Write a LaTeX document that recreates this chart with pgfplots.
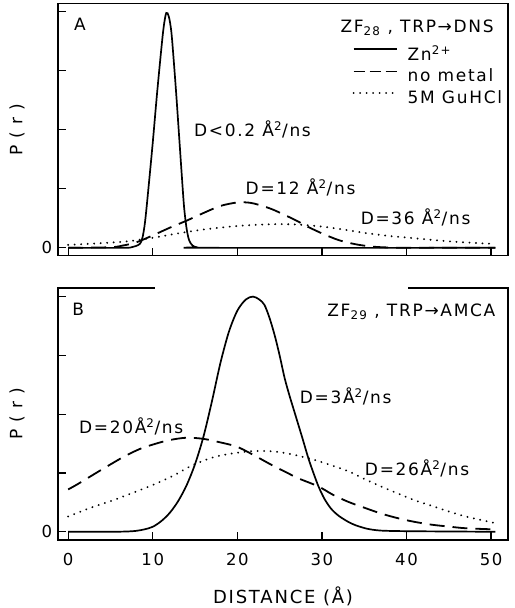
\documentclass[border=0pt]{standalone}
\usepackage{fontspec}
\setmainfont{DejaVu Sans}[LetterSpace=10]
\usepackage{pgfplots}
\pgfplotsset{compat=1.18}
\newcommand{\sq}{\textsuperscript{2}}
\begin{document}
\fontsize{17bp}{20bp}\selectfont
\begin{tikzpicture}
\useasboundingbox (0,0) rectangle (515bp,-608bp);
\pgfplotsset{
  every axis/.append style={
    scale only axis, width=450bp, height=252bp,
    xmin=-1.2, xmax=52,
    axis line style={line width=1.6bp},
    tick style={line width=1.2bp, black},
    major tick length=8bp,
    tick align=inside,
    xtick pos=bottom, ytick pos=left,
    xtick={0,10,...,50},
    ytick={0,1,2,3,4},
    yticklabels={0,,,,},
    /pgf/number format/assume math mode=true,
    ticklabel style={font=\fontsize{16.5bp}{18bp}\selectfont},
    label style={font=\fontsize{17bp}{20bp}\selectfont},
    ylabel={P ( r )},
    ylabel style={at={(axis description cs:-0.091,0.5)}, anchor=center},
    clip=false,
  },
  solidc/.style={black, line width=1.7bp, smooth, tension=0.5},
  dashc/.style={black, line width=1.8bp, dash pattern=on 15bp off 8bp, smooth},
  dotc/.style={black, line width=2.1bp, line cap=round, dash pattern=on 0.01bp off 6.5bp, smooth},
}
% ---------------- Panel A ----------------
\begin{axis}[at={(58bp,-255.5bp)}, anchor=south west,
  ymin=-0.13, ymax=4.14, xticklabels={},
  legend style={at={(axis cs:33.6,3.47)}, anchor=north west, draw=none, fill=none,
    inner sep=0pt, row sep=2bp, column sep=8bp, cells={anchor=west},
    font=\fontsize{17bp}{20bp}\selectfont},
  legend image code/.code={\draw[#1] (0bp,5bp) -- (43bp,5bp);},
]
\addplot[solidc] coordinates {
(0,0) (6.5,0) (7.5,0.01) (8.0,0.03) (8.5,0.07) (8.8,0.18) (9.1,0.45) (9.5,1.02)
(10.0,1.78) (10.5,2.6) (11.0,3.35) (11.3,3.75) (11.6,3.98) (11.9,3.92) (12.2,3.66)
(12.5,3.14) (12.8,2.56) (13.1,1.93) (13.4,1.3) (13.7,0.7) (14.0,0.33) (14.3,0.13)
(14.7,0.04) (15.2,0.01) (16,0) (50.5,0)};
\addlegendentry{Zn\textsuperscript{2+}}
\addlegendimage{black, line width=1.8bp, dash pattern=on 11bp off 5bp}
\addlegendentry{no metal}
\addplot[dashc, forget plot] coordinates {
(0,0) (5,0.01) (6.5,0.04) (8,0.09) (10,0.21) (12,0.34) (14,0.46) (16,0.59) (18,0.71)
(20,0.77) (21,0.77) (22,0.75) (24,0.66) (26,0.53) (27.4,0.43) (28,0.38) (30,0.245)
(32,0.13) (34,0.06) (36,0.02) (38,0.005) (40,0) (50.5,0)};
\addplot[dotc] coordinates {
(0,0.05) (4,0.08) (7,0.11) (10,0.17) (13,0.245) (16,0.31) (20,0.37) (24,0.40)
(27,0.395) (30,0.36) (33,0.3) (35.2,0.25) (38,0.2) (40,0.175) (43,0.135) (46,0.1)
(50.5,0.065)};
\addlegendentry{5M GuHCl}
\node at (axis cs:1.4,3.78) {A};
\node[anchor=east] at (axis cs:51.0,3.73) {ZF\textsubscript{28} , TRP→DNS};
\node[anchor=west] at (axis cs:14.2,2.0) {D<0.2 Å\sq/ns};
\node[anchor=west] at (axis cs:20.3,1.02) {D=12 Å\sq/ns};
\node[anchor=west] at (axis cs:33.9,0.51) {D=36 Å\sq/ns};
\end{axis}
% ---------------- Panel B ----------------
\begin{axis}[at={(58bp,-540bp)}, anchor=south west,
  ymin=-0.14, ymax=4.146,
  xlabel={DISTANCE (Å)},
  xlabel style={at={(axis description cs:0.5,-0.222)}, anchor=center,
    font=\fontsize{18bp}{20bp}\selectfont},
  xticklabel style={yshift=-7.5bp},
]
\addplot[solidc] coordinates {
(0,0) (5,0) (7,0.005) (8,0.015) (9,0.04) (10,0.085) (11,0.18) (12,0.32) (13,0.52)
(14,0.79) (15,1.15) (16,1.62) (17,2.22) (18,2.87) (19,3.4) (20,3.76) (21,3.95)
(21.85,4.0) (22.6,3.95) (23.2,3.86) (23.8,3.64) (24.4,3.35) (25,3.0) (25.6,2.61)
(26.2,2.3) (26.75,2.04) (27.7,1.59) (28.4,1.25) (29.0,1.0) (29.6,0.77) (30.3,0.56)
(31.1,0.39) (32,0.27) (33.1,0.17) (34,0.11) (35.4,0.05) (37,0.02) (40,0.01)
(45,0.005) (50.5,0)};
\addplot[dashc] coordinates {
(0,0.72) (1,0.8) (2.5,0.93) (4,1.06) (6.5,1.27) (8.5,1.41) (10.4,1.5) (12,1.56)
(14,1.6) (16,1.58) (18,1.52) (19.9,1.45) (21.6,1.33) (23,1.22) (24.4,1.11)
(25.8,1.01) (27.2,0.91) (29.6,0.77) (31.3,0.63) (33.1,0.51) (35,0.41) (37,0.31)
(39,0.23) (40.9,0.17) (43,0.12) (44.9,0.09) (47,0.06) (50.5,0.04)};
\addplot[dotc] coordinates {
(0,0.26) (2.5,0.40) (5,0.52) (6.5,0.6) (8.5,0.71) (10.4,0.82) (12.5,0.96)
(14.4,1.11) (16,1.21) (17.5,1.28) (19.3,1.33) (21.6,1.37) (24,1.37) (26,1.33)
(28.4,1.25) (30.5,1.16) (33.1,1.03) (35,0.9) (37,0.77) (39,0.65) (40.9,0.54)
(43,0.44) (44.9,0.35) (47,0.26) (50.4,0.15)};
\draw[white, line width=3.5bp] (axis cs:10.3,4.146) -- (axis cs:40.2,4.146);
\node at (axis cs:1.2,3.78) {B};
\node[anchor=east] at (axis cs:51.2,3.74) {ZF\textsubscript{29} , TRP→AMCA};
\node[anchor=west] at (axis cs:26.7,2.30) {D=3Å\sq/ns};
\node[anchor=west] at (axis cs:0.6,1.79) {D=20Å\sq/ns};
\node[anchor=west] at (axis cs:34.4,1.08) {D=26Å\sq/ns};
\end{axis}
\end{tikzpicture}
\end{document}
